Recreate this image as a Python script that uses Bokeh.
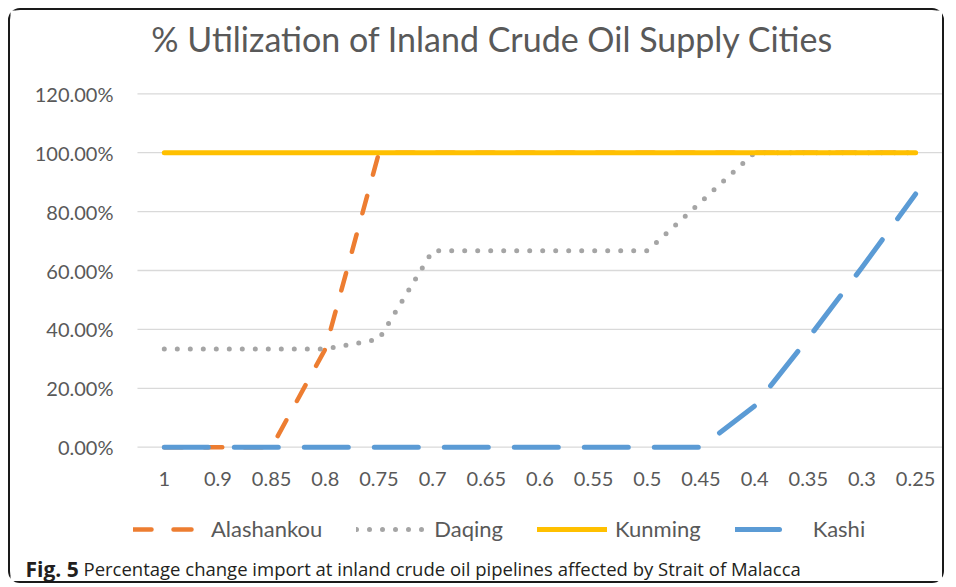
from bokeh.plotting import figure
from bokeh.models import (Range1d, NumeralTickFormatter, Legend, LegendItem,
                          FixedTicker, Label)
from bokeh.embed import file_html
from bokeh.resources import INLINE

# ---- data -------------------------------------------------------------
ratios = ["1", "0.9", "0.85", "0.8", "0.75", "0.7", "0.65", "0.6", "0.55",
          "0.5", "0.45", "0.4", "0.35", "0.3", "0.25"]
alashankou = [0, 0, 0, 0.3333, 1, 1, 1, 1, 1, 1, 1, 1, 1, 1, 1]
daqing = [0.3333, 0.3333, 0.3333, 0.3333, 0.3667, 0.6667, 0.6667, 0.6667,
          0.6667, 0.6667, 0.8333, 1, 1, 1, 1]
kunming = [1, 1, 1, 1, 1, 1, 1, 1, 1, 1, 1, 1, 1, 1, 1]
kashi = [0, 0, 0, 0, 0, 0, 0, 0, 0, 0, 0, 0.14, 0.37, 0.61, 0.86]
y_ticks = [0, 0.2, 0.4, 0.6, 0.8, 1.0, 1.2]

series_names = ["Alashankou", "Daqing", "Kunming", "Kashi"]
title_text = "% Utilization of Inland Crude Oil Supply Cities"
caption_bold = "Fig. 5"
caption_text = ("Percentage change import at inland crude oil pipelines "
                "affected by Strait of Malacca")

# ---- geometry (pixels) --------------------------------------------------
W, H = 936, 575
STEP = 805 / 15          # px per category
X0 = 153.8               # canvas x of first category centre
Y0 = 436.7               # canvas y (from top) of 0 %
PPU = 294.5              # px per 1.0 (100 %)

xpos = list(range(len(ratios)))
x_start = -X0 / STEP
x_end = x_start + W / STEP
y_end = Y0 / PPU
y_start = -(H - Y0) / PPU

GREY_TXT = "#595959"
FONT = "Lato"

p = figure(width=W, height=H, x_range=Range1d(x_start, x_end),
           y_range=Range1d(y_start, y_end), output_backend="svg",
           toolbar_location=None, min_border=0, min_border_left=0,
           min_border_right=0, min_border_top=0, min_border_bottom=0)
p.styles = {"border": "2px solid #1a1a1a", "border-radius": "12px",
            "margin": "8px 0 0 8px"}
p.outline_line_color = None
p.background_fill_color = "white"
p.border_fill_color = "white"
p.xgrid.visible = False
p.ygrid.visible = False

# axes drawn inside the frame
p.xaxis.fixed_location = 0
p.yaxis.fixed_location = -0.5
p.xaxis.ticker = FixedTicker(ticks=xpos)
p.xaxis.major_label_overrides = {i: r for i, r in zip(xpos, ratios)}
p.yaxis.ticker = FixedTicker(ticks=y_ticks)
p.yaxis.formatter = NumeralTickFormatter(format="0.00%")
for ax in (p.xaxis, p.yaxis):
    ax.axis_line_color = None
    ax.major_tick_line_color = None
    ax.minor_tick_line_color = None
    ax.major_tick_out = 0
    ax.major_tick_in = 0
    ax.major_label_text_font = FONT
    ax.major_label_text_font_size = "20px"
    ax.major_label_text_color = GREY_TXT
p.yaxis.major_label_standoff = 24
p.xaxis.major_label_standoff = 25

# horizontal gridlines across the plot area only
p.segment(x0=-0.5, x1=len(ratios) - 0.5, y0=y_ticks, y1=y_ticks,
          line_color="#d9d9d9", line_width=1.3)

r_a = p.line(xpos, alashankou, line_color="#ED7D31", line_width=4.5,
             line_dash="18 22", line_cap="round")
r_d = p.line(xpos, daqing, line_color="#A5A5A5", line_width=5,
             line_dash="0 13", line_cap="round")
r_k = p.line(xpos, kunming, line_color="#FFC000", line_width=5,
             line_cap="round")
r_s = p.line(xpos, kashi, line_color="#5B9BD5", line_width=5,
             line_dash="44 26", line_cap="round")

legend = Legend(items=[LegendItem(label=n, renderers=[r])
                       for n, r in zip(series_names, [r_a, r_d, r_k, r_s])],
                orientation="horizontal", location=(123, 43),
                glyph_width=70, glyph_height=20, label_height=20,
                label_standoff=8, spacing=34, padding=0, margin=0,
                border_line_color=None, background_fill_alpha=0,
                label_text_font=FONT, label_text_font_size="22px",
                label_text_color=GREY_TXT)
p.add_layout(legend, "center")

p.add_layout(Label(x=482, y=547, x_units="screen", y_units="screen",
                   text=title_text, text_align="center",
                   text_baseline="middle", text_font=FONT,
                   text_font_size="34px", text_color=GREY_TXT))
p.add_layout(Label(x=15, y=17, x_units="screen", y_units="screen",
                   text=caption_bold, text_align="left",
                   text_baseline="middle", text_font="Open Sans",
                   text_font_size="21px", text_font_style="bold",
                   text_color="#231f20"))
p.add_layout(Label(x=73, y=17, x_units="screen", y_units="screen",
                   text=caption_text, text_align="left",
                   text_baseline="middle", text_font="Open Sans",
                   text_font_size="18.5px", text_color="#231f20"))

open("out.html", "w").write(file_html(p, INLINE))
